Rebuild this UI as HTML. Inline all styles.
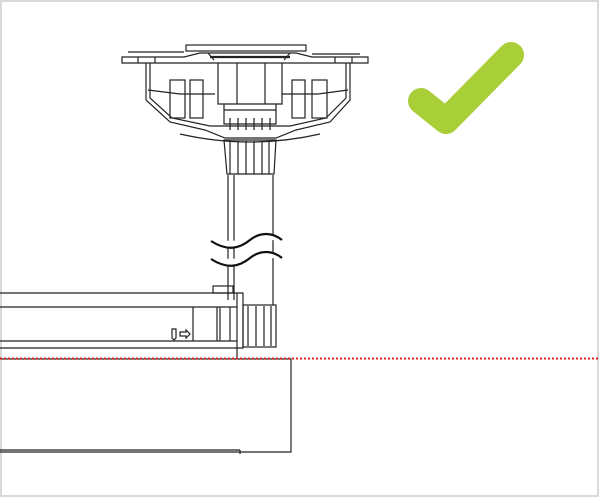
<!DOCTYPE html>
<html><head><meta charset="utf-8"><style>
html,body{margin:0;padding:0;background:#fff;width:600px;height:497px;overflow:hidden}
svg{display:block}
</style></head><body>
<svg width="600" height="497" viewBox="0 0 600 497" xmlns="http://www.w3.org/2000/svg">
<rect x="1" y="1" width="597" height="495" fill="#fff" stroke="#d9d9d9" stroke-width="2"/>
<g fill="none" stroke="#222" stroke-width="1.2">
<!-- top flange -->
<rect x="186" y="45" width="120" height="6"/>
<path d="M122 57 H184 L200 53 H296 L312 57 H368 V63 H122 Z"/>
<path d="M128 52 H184 M312 54 H360"/>
<path d="M208 53 L214 60 M290 53 L284 60"/>
<path d="M210 57 H290" stroke-width="2.2"/>
<path d="M138 57 V63 M155 57 V63 M335 57 V63 M352 57 V63"/>
<!-- body -->
<path d="M146 63 V100 L170 122 L205 130 L225 138 H276 L296 130 L330 122 L350 100 V63"/>
<path d="M150 63 V98 L172 118 L210 126 H290 L326 118 L346 98 V63"/>
<path d="M148 90 L180 94 H215 M282 94 H318 L348 90"/>
<path d="M180 134 Q250 150 320 134"/>
<rect x="170" y="80" width="15" height="38"/>
<rect x="190" y="80" width="13" height="38"/>
<rect x="292" y="80" width="13" height="38"/>
<rect x="312" y="80" width="15" height="38"/>
<path d="M218 63 V104 H282 V63 M237 63 V104 M265 63 V104"/>
<path d="M224 104 V124 H276 V104 M224 110 H276"/>
<path d="M230 118 V130 M238 118 V130 M246 118 V130 M254 118 V130 M262 118 V130 M270 118 V130"/>
<!-- knurled collar -->
<path d="M224 140 H276 L274 174 H227 Z"/>
<path d="M230 141 V174 M238 141 V174 M246 141 V174 M254 141 V174 M262 141 V174 M269 141 V174"/>
<!-- rods -->
<path d="M228 175 V300 M234 175 V300 M273 175 V305"/>
<!-- bar -->
<path d="M0 293 H243 V348 H0"/>
<path d="M0 307 H237 M0 341 H237"/>
<path d="M193 307 V341 M217 307 V341 M220 307 V341 M230 307 V341 M237 293 V358"/>
<rect x="213" y="286" width="20" height="7"/>
<!-- nut -->
<rect x="243" y="305" width="33" height="42"/>
<path d="M248 306 V346 M256 306 V346 M264 306 V346 M271 306 V346"/>
<!-- small arrows -->
<path d="M172 329 V338 L174 340 L176 338 V329 Z"/>
<path d="M180 332 H186 V330 L190 334 L186 338 V336 H180 Z"/>
<!-- housing -->
<path d="M0 359 H291 V452 H0"/>
<path d="M0 450 H240 M240 450 V454"/>
</g>
<!-- waves -->
<g fill="none" stroke="#111" stroke-width="2.2">
<path d="M211 241 C228 252 240 248 250 240 C260 232 272 232 282 240" fill="#fff"/>
<path d="M211 259 C228 270 240 266 250 258 C260 250 272 250 282 258" fill="#fff"/>
</g>
<!-- red dotted line -->
<line x1="0" y1="358.5" x2="600" y2="358.5" stroke="#e02020" stroke-width="2" stroke-dasharray="2 2"/>
<!-- check -->
<path d="M421 101 L446 121 L511 55" fill="none" stroke="#a9cf38" stroke-width="26" stroke-linecap="round" stroke-linejoin="round"/>
</svg>
</body></html>
